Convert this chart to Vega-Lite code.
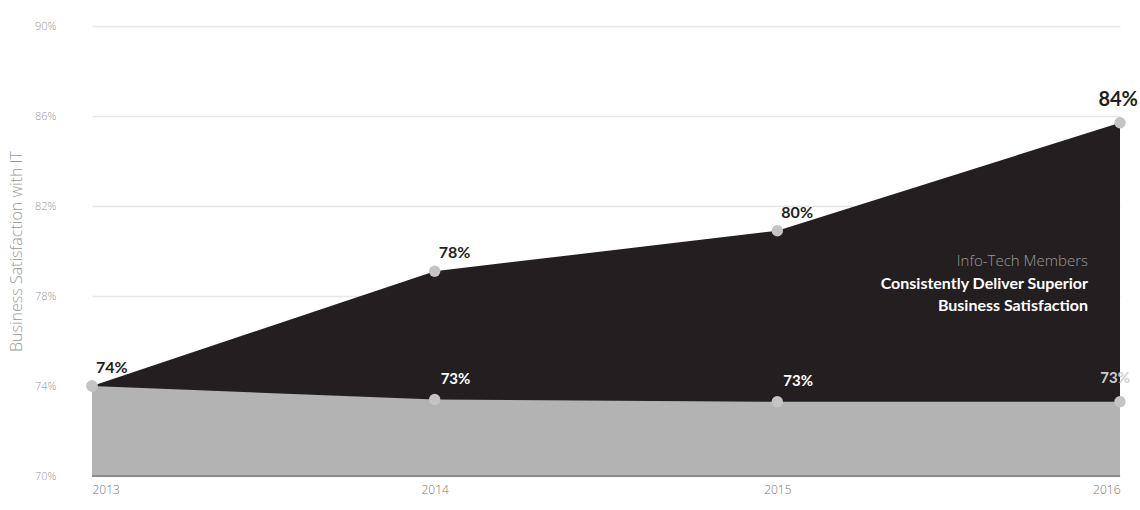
{
  "$schema": "https://vega.github.io/schema/vega-lite/v6.json",
  "width": 1028,
  "height": 450,
  "autosize": {"type": "none"},
  "padding": {"left": 92, "top": 26, "right": 20, "bottom": 34},
  "background": "white",
  "config": {"view": {"stroke": null}, "font": "Lato"},
  "datasets": {
    "series": [
      {"year": 2013, "series": "Info-Tech Members", "value": 74.0, "label": "74%"},
      {"year": 2014, "series": "Info-Tech Members", "value": 79.1, "label": "78%"},
      {"year": 2015, "series": "Info-Tech Members", "value": 80.9, "label": "80%"},
      {"year": 2016, "series": "Info-Tech Members", "value": 85.7, "label": "84%"},
      {"year": 2013, "series": "Others", "value": 74.0, "label": ""},
      {"year": 2014, "series": "Others", "value": 73.4, "label": "73%"},
      {"year": 2015, "series": "Others", "value": 73.3, "label": "73%"},
      {"year": 2016, "series": "Others", "value": 73.3, "label": "73%"}
    ],
    "notes": [
      {"year": 2016, "value": 79.55, "text": "Info-Tech Members", "kind": "light"},
      {"year": 2016, "value": 78.55, "text": "Consistently Deliver Superior", "kind": "bold"},
      {"year": 2016, "value": 77.55, "text": "Business Satisfaction", "kind": "bold"}
    ]
  },
  "encoding": {
    "x": {
      "field": "year", "type": "quantitative",
      "scale": {"domain": [2013, 2016], "nice": false, "zero": false},
      "axis": {
        "values": [2013, 2014, 2015, 2016], "format": "d", "title": null,
        "grid": false, "domain": false, "ticks": false,
        "labelColor": "#777777", "labelFontSize": 12, "labelFont": "Open Sans",
        "labelFontWeight": 300, "labelPadding": 8,
        "labelAlign": {"expr": "datum.value == 2013 ? 'left' : datum.value == 2016 ? 'right' : 'center'"}
      }
    },
    "y": {
      "field": "value", "type": "quantitative",
      "scale": {"domain": [70, 90], "nice": false, "zero": false},
      "axis": {
        "values": [70, 74, 78, 82, 86, 90],
        "labelExpr": "datum.value + '%'",
        "title": "Business Satisfaction with IT",
        "titleFont": "Open Sans", "titleFontWeight": 300, "titleFontSize": 16,
        "titleColor": "#999999", "titlePadding": 10,
        "grid": true, "gridColor": "#e6e6e6", "gridWidth": 1.5,
        "domain": false, "ticks": false,
        "labelColor": "#999999", "labelFontSize": 11, "labelFont": "Open Sans",
        "labelFontWeight": 300, "labelPadding": 36
      }
    }
  },
  "layer": [
    {
      "data": {"name": "series"},
      "transform": [{"filter": "datum.series == 'Info-Tech Members'"}],
      "mark": {"type": "area", "color": "#231f20", "opacity": 1},
      "encoding": {"y2": {"datum": 70}}
    },
    {
      "data": {"name": "series"},
      "transform": [{"filter": "datum.series == 'Others'"}],
      "mark": {"type": "area", "color": "#b3b3b3", "opacity": 1},
      "encoding": {"y2": {"datum": 70}}
    },
    {
      "data": {"name": "series"},
      "transform": [{"filter": "datum.series == 'Others'"}],
      "mark": {"type": "rule", "color": "#8c8c8c", "strokeWidth": 2},
      "encoding": {"y": {"datum": 70}, "x": {"datum": 2013}, "x2": {"datum": 2016}}
    },
    {
      "data": {"name": "series"},
      "mark": {"type": "point", "filled": true, "color": "#c4c4c4", "opacity": 1, "size": 130},
      "encoding": {}
    },
    {
      "data": {"name": "series"},
      "transform": [{"filter": "datum.series == 'Info-Tech Members' && datum.year < 2016"}],
      "mark": {"type": "text", "align": "left", "baseline": "bottom", "dx": 4, "dy": -10, "fontSize": 16, "fontWeight": "bold", "color": "#231f20"},
      "encoding": {"text": {"field": "label"}}
    },
    {
      "data": {"name": "series"},
      "transform": [{"filter": "datum.series == 'Info-Tech Members' && datum.year == 2016"}],
      "mark": {"type": "text", "align": "right", "baseline": "bottom", "dx": 18, "dy": -13, "fontSize": 20, "fontWeight": "bold", "color": "#231f20"},
      "encoding": {"text": {"field": "label"}}
    },
    {
      "data": {"name": "series"},
      "transform": [{"filter": "datum.series == 'Others' && datum.year > 2013 && datum.year < 2016"}],
      "mark": {"type": "text", "align": "left", "baseline": "bottom", "dx": 6, "dy": -13, "fontSize": 15, "fontWeight": "bold", "color": "#ffffff"},
      "encoding": {"text": {"field": "label"}}
    },
    {
      "data": {"name": "series"},
      "transform": [{"filter": "datum.series == 'Others' && datum.year == 2016"}],
      "mark": {"type": "text", "align": "right", "baseline": "bottom", "dx": 10, "dy": -16, "fontSize": 15, "fontWeight": "bold", "color": "#cfcfcf"},
      "encoding": {"text": {"field": "label"}}
    },
    {
      "data": {"name": "notes"},
      "transform": [{"filter": "datum.kind == 'light'"}],
      "mark": {"type": "text", "align": "right", "baseline": "middle", "dx": -32, "fontSize": 15, "font": "Open Sans", "fontWeight": 300, "color": "#9a9a9a"},
      "encoding": {"text": {"field": "text"}}
    },
    {
      "data": {"name": "notes"},
      "transform": [{"filter": "datum.kind == 'bold'"}],
      "mark": {"type": "text", "align": "right", "baseline": "middle", "dx": -32, "fontSize": 16, "fontWeight": "bold", "color": "#ffffff"},
      "encoding": {"text": {"field": "text"}}
    }
  ]
}
